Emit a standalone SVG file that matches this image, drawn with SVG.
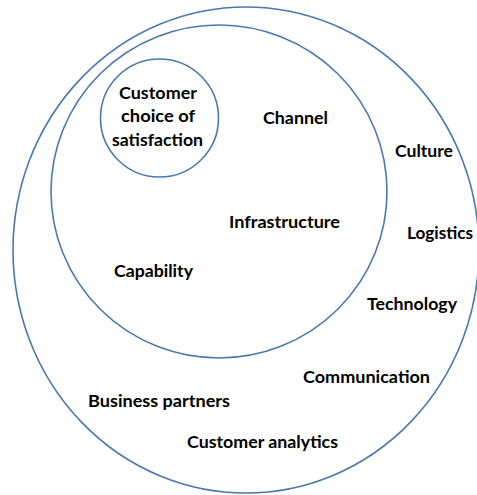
<svg xmlns="http://www.w3.org/2000/svg" width="477" height="495" viewBox="0 0 477 495">
<style>
.ring{fill:none;stroke:#4A78AE;stroke-width:1.6}
.lbl{font-family:Lato,"Open Sans","Liberation Sans",sans-serif;font-weight:bold;font-size:17px;fill:#000}
</style>
<rect width="477" height="495" fill="#fff"/>
<g id="outer">
<ellipse class="ring" cx="246" cy="250" rx="233" ry="243"/>
<text class="lbl" x="395" y="157" textLength="58" lengthAdjust="spacingAndGlyphs">Culture</text>
<text class="lbl" x="407" y="239" textLength="66" lengthAdjust="spacingAndGlyphs">Logistics</text>
<text class="lbl" x="367" y="310" textLength="90" lengthAdjust="spacingAndGlyphs">Technology</text>
<text class="lbl" x="303" y="383" textLength="127" lengthAdjust="spacingAndGlyphs">Communication</text>
<text class="lbl" x="88" y="407" textLength="142" lengthAdjust="spacingAndGlyphs">Business partners</text>
<text class="lbl" x="187" y="448" textLength="151" lengthAdjust="spacingAndGlyphs">Customer analytics</text>
</g>
<g id="middle">
<ellipse class="ring" cx="219" cy="191.5" rx="168" ry="166.5"/>
<text class="lbl" x="263" y="124" textLength="65" lengthAdjust="spacingAndGlyphs">Channel</text>
<text class="lbl" x="229" y="228" textLength="111" lengthAdjust="spacingAndGlyphs">Infrastructure</text>
<text class="lbl" x="114" y="277" textLength="79" lengthAdjust="spacingAndGlyphs">Capability</text>
</g>
<g id="inner">
<circle class="ring" cx="159.5" cy="118" r="59"/>
<text class="lbl" x="119" y="99" textLength="78" lengthAdjust="spacingAndGlyphs">Customer</text>
<text class="lbl" x="121" y="122" textLength="74" lengthAdjust="spacingAndGlyphs">choice of</text>
<text class="lbl" x="112" y="146" textLength="91" lengthAdjust="spacingAndGlyphs">satisfaction</text>
</g>
<g id="connectors"></g>
</svg>
